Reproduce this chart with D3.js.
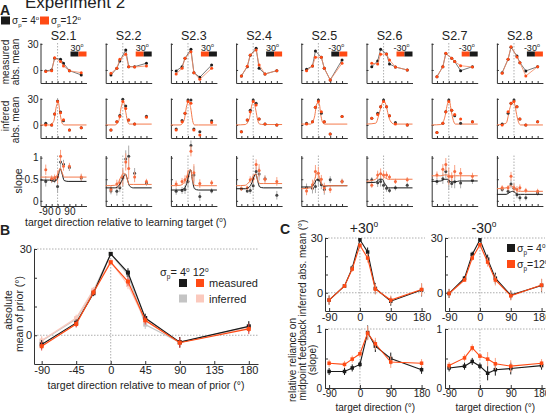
<!DOCTYPE html>
<html><head><meta charset="utf-8">
<script src="https://cdn.jsdelivr.net/npm/d3@7"></script>
<style>
body{margin:0;background:#fff}
svg text{font-family:"Liberation Sans",Arial,sans-serif;fill:#222}
</style></head><body><div id="fig"></div>
<script>
// ---------- data : panel A (single subjects)
const subjects = ["S2.1","S2.2","S2.3","S2.4","S2.5","S2.6","S2.7","S2.8"];
const learnTarget = ["30","30","30","30","-30","-30","-30","-30"];
const barOrder = [["k","o"],["o","k"],["o","k"],["k","o"],["k","o"],["o","k"],["o","k"],["k","o"]];

const dirsMeas = [-90,-45,-22.5,22.5,45,90,180];
const dirsAll = [-90,-45,-22.5,0,22.5,45,90,180];
const curveDirs = [-130,-60,-30,-10,5,20,35,50,80,220];

const measK = [
  [-1.1, 0, 13.4, 12.3, 7.7, -0.8, -5.7],
  [-5.7, 1.9, 10.3, 23, 3.8, 3.8, 7.7],
  [-1.1, 3.8, 13.4, 23.8, -3.1, -8.4, 5.7],
  [-6.9, 3.8, 17, 24.9, 1.9, -4.6, -0.8],
  [0.8, 4.6, 21.8, 14.6, 1.9, -11.5, 11.5],
  [3.8, 10.3, 23.8, 18.4, 6.9, 3.4, 0],
  [-7.7, 3.8, 19, 13.4, 9.6, -0.8, 3.8],
  [-3.1, 12.3, 26, 16.1, 8.4, -1.1, 3.8]
];
const measO = [
  [-1.9, -1, 14, 9.6, 4.6, -1, -3.1],
  [-3.8, 1.9, 12.3, 18, 3.8, 3.4, 4.6],
  [-4.6, 2, 13.4, 21, -3.1, -10.7, 1.9],
  [-6.9, 4.2, 17.2, 23, 5.7, -4.6, -0.8],
  [-1, 4.6, 14.6, 14.6, 1.9, -11.5, 7.7],
  [7.7, 6.9, 18, 18.4, 11.5, 3.4, 0],
  [-7.7, 3.8, 19.2, 13.4, 9.6, 4.9, 3.4],
  [-3.8, 12.3, 26.8, 15, 8.4, -6.9, 3.8]
];
const infK = [
  [1.9, 0, 12.6, 27.6, 15, 4.9, -5.7, -3.1],
  [-5.7, 3.8, 11, 29.5, 21.8, 5.7, 1.1, 10],
  [-4.6, 5, 13.4, 28.7, 28.7, -4.6, -7.7, 4.9],
  [-7.7, 5.7, 17, 28.7, 24.9, 6.9, 1.1, 0],
  [2, 3.8, 20.3, 28.7, 13.4, 3.8, -10.3, 9.6],
  [7.7, 13.4, 21, 28.7, 21, 10.7, 2.7, 0],
  [-8.8, 1.9, 15.3, 28.7, 17, 10.7, 1.9, 3.8],
  [1, 13.4, 24.9, 28.7, 21, 6.9, 0, 3.8]
];
const infO = [
  [0, 0, 12.6, 27, 14, 6, -5.7, -3.1],
  [-5.7, 3.8, 9.6, 27, 19, 5.7, 1.1, 8.8],
  [-5.7, 3.8, 13.4, 27, 24.9, -5.7, -11.5, 2.7],
  [-7.7, 5.7, 15.3, 27, 23, 6.9, 1.1, 0],
  [1.1, 3.8, 20.3, 27, 15.3, 3.8, -10.3, 9.6],
  [7.7, 12, 21, 27, 21, 10.7, 1.1, 0],
  [-8.8, 1.9, 15.3, 27, 17, 12, 6.9, 3.8],
  [0, 15.3, 24.9, 27, 21, 6.9, 0, 3.8]
];
const infCurve = [
  [0, 0, 4, 21, 26, 12, 2, 0, 0, 0],
  [0, 0, 5, 22, 27, 17, 5, 1, 1, 1],
  [0, 0, 5, 22, 27, 20, 5, 0, 0, 0],
  [0, 0.5, 7, 23, 27, 17, 5, 1, 0.5, 0.5],
  [1, 1, 9, 25, 25, 10, 2, 1, 1, 1],
  [1, 2, 15, 25, 27, 22, 12, 5, 1, 1],
  [0, 0.5, 9, 24, 27, 15, 5, 1, 1, 1],
  [0, 2, 20, 27, 24, 12, 3, 0, 0, 0]
];
const slopeK = [
  [0.45, 0.49, 0.49, 0.33, 0.90, 0.85, 0.77, 0.53],
  [0.23, 0.22, 0.30, 0.53, 0.97, 1.03, 0.64, 0.41],
  [0.22, 0.24, 0.26, 0.45, 1.28, 0.60, 0.10, 0.23],
  [0.28, 0.23, 0.24, 0.35, 0.68, 0.62, 0.51, 0.13],
  [0.30, 0.29, 0.33, 0.49, 0.37, 0.26, 0.49, 0.45],
  [0.49, 0.42, 0.45, 0.36, 0.29, 0.24, 0.30, 0.36],
  [0.45, 0.51, 0.68, 0.45, 0.40, 0.44, 0.41, 0.47],
  [0.26, 0.22, 0.39, 0.29, 0.14, 0.07, 0.07, 0.18]
];
const slopeO = [
  [0.72, 0.51, 0.53, 0.55, 1.03, 0.80, 0.80, 0.55],
  [0.27, 0.39, 0.41, 0.55, 0.90, 0.75, 0.55, 0.45],
  [0.39, 0.45, 0.49, 0.57, 1.15, 0.65, 0.40, 0.42],
  [0.28, 0.30, 0.49, 0.51, 0.84, 0.70, 0.50, 0.45],
  [0.23, 0.37, 0.68, 0.64, 0.50, 0.30, 0.26, 0.45],
  [0.36, 0.60, 0.63, 0.60, 0.60, 0.55, 0.45, 0.49],
  [0.60, 0.73, 0.84, 0.57, 0.56, 0.68, 0.64, 0.57],
  [0.30, 0.30, 0.57, 0.30, 0.26, 0.30, 0.24, 0.22]
];
const slopeErr = [
  [0.12, 0.08, 0.08, 0.15, 0.15, 0.10, 0.08, 0.08],
  [0.08, 0.10, 0.10, 0.20, 0.20, 0.25, 0.12, 0.06],
  [0.08, 0.08, 0.10, 0.15, 0.12, 0.20, 0.10, 0.06],
  [0.05, 0.05, 0.08, 0.10, 0.12, 0.15, 0.08, 0.10],
  [0.10, 0.12, 0.15, 0.15, 0.10, 0.12, 0.08, 0.06],
  [0.06, 0.10, 0.12, 0.10, 0.08, 0.06, 0.06, 0.06],
  [0.08, 0.12, 0.15, 0.20, 0.10, 0.15, 0.12, 0.08],
  [0.06, 0.06, 0.10, 0.10, 0.08, 0.08, 0.06, 0.06]
];
const slopeCurveK = [
  [0.48,0.48,0.45,0.47,0.58,0.74,0.62,0.47,0.45,0.45],
  [0.30,0.30,0.35,0.45,0.55,0.62,0.50,0.35,0.30,0.30],
  [0.25,0.25,0.28,0.40,0.58,0.72,0.45,0.28,0.25,0.25],
  [0.28,0.28,0.32,0.42,0.55,0.62,0.45,0.32,0.30,0.30],
  [0.32,0.32,0.40,0.50,0.48,0.40,0.34,0.34,0.35,0.35],
  [0.42,0.43,0.50,0.50,0.42,0.35,0.30,0.30,0.30,0.30],
  [0.45,0.46,0.50,0.50,0.46,0.44,0.44,0.44,0.46,0.46],
  [0.15,0.15,0.20,0.22,0.20,0.16,0.15,0.15,0.15,0.15]
];
const slopeCurveO = [
  [0.55,0.55,0.55,0.57,0.65,0.76,0.65,0.55,0.55,0.55],
  [0.35,0.36,0.45,0.58,0.64,0.62,0.48,0.38,0.38,0.38],
  [0.35,0.36,0.42,0.55,0.70,0.72,0.48,0.36,0.35,0.35],
  [0.35,0.36,0.44,0.52,0.60,0.62,0.48,0.40,0.40,0.40],
  [0.28,0.30,0.48,0.65,0.58,0.42,0.35,0.35,0.35,0.35],
  [0.45,0.50,0.62,0.60,0.55,0.52,0.50,0.50,0.50,0.50],
  [0.58,0.58,0.60,0.60,0.58,0.58,0.58,0.58,0.58,0.58],
  [0.28,0.30,0.35,0.33,0.28,0.24,0.22,0.22,0.22,0.22]
];

// ---------- data : panel B (group)
const bMeasK = [-3.2, 4.3, 14.6, 28.3, 21.8, 6, -2.4, 3.1];
const bMeasO = [-3.8, 3.9, 14.9, 25.4, 18.7, 5.2, -2.6, 2.2];
const bInfK = [-2, 5.6, 15.5, 28.3, 21, 3.7, -2.5, 3];
const bInfO = [-1.8, 6, 15.8, 25.6, 17.5, 5, -2.5, 2.5];
const bErr = [1.5, 1.2, 1, 0.6, 1.5, 1.5, 1.8, 1.8];

// ---------- data : panel C (+30 / -30 groups)
const cTopPosK = [-4, 3.7, 13.5, 29, 22.3, 2.4, -4.6, 1.5];
const cTopPosO = [-4, 3.7, 13, 26, 19, 2, -4, 1.8];
const cTopNegK = [-0.4, 8, 21, 29, 18.4, 8, -1.3, 4];
const cTopNegO = [-0.4, 7, 19, 26.3, 16.8, 7, -1.7, 4.2];
const cBotPosK = [0.28, 0.28, 0.34, 0.40, 0.94, 0.71, 0.50, 0.31];
const cBotPosO = [0.42, 0.40, 0.49, 0.58, 0.93, 0.75, 0.44, 0.42];
const cBotNegK = [0.34, 0.37, 0.45, 0.37, 0.25, 0.31, 0.33, 0.38];
const cBotNegO = [0.38, 0.51, 0.68, 0.54, 0.49, 0.41, 0.37, 0.42];
const cTopErr = [2.5, 1, 1.5, 0.8, 2.5, 3, 2.5, 3.5];
const cBotErr = [0.06, 0.06, 0.06, 0.05, 0.12, 0.1, 0.1, 0.07];

// ---------- setup
const K = "#1a1a1a", O = "#ff4a14", KL = "#c4c4c4", OL = "#fbc9bd";
const OE = "#f9a183";
const minus = d => "" + d;   // plain hyphen like the figure

const svg = d3.select("#fig").append("svg")
    .attr("width", 546).attr("height", 413);

function axes(g, x, y, xt, yt, xf, yf, size, fs, pad) {
    g.append("g").attr("transform", `translate(${x.range()[0]},0)`)
        .call(d3.axisLeft(y).tickValues(yt).tickSize(size).tickSizeOuter(0).tickPadding(pad || 2).tickFormat(yf))
        .attr("font-size", fs).attr("color", "#333");
    g.append("g").attr("transform", `translate(0,${y.range()[0]})`)
        .call(d3.axisBottom(x).tickValues(xt).tickSize(size).tickSizeOuter(0).tickPadding(2).tickFormat(xf))
        .attr("font-size", fs).attr("color", "#333");
}

function dotted(g, x1, y1, x2, y2) {
    g.append("line").attr("x1", x1).attr("y1", y1).attr("x2", x2).attr("y2", y2)
        .attr("stroke", "#999").attr("stroke-width", 0.8).attr("stroke-dasharray", "1.5,1.5");
}

function series(g, x, y, xs, ys, col, opt) {
    const pts = xs.map((d, i) => ({ x: d, y: ys[i], e: opt.err ? opt.err[i] : 0 }));
    if (opt.line) {
        g.append("path").datum(pts)
            .attr("d", d3.line().x(d => x(d.x)).y(d => y(d.y)))
            .attr("fill", "none").attr("stroke", opt.lineCol || col).attr("stroke-width", opt.lw || 1);
    }
    if (opt.err) {
        g.selectAll(null).data(pts).enter().append("line")
            .attr("x1", d => x(d.x)).attr("x2", d => x(d.x))
            .attr("y1", d => y(d.y - d.e)).attr("y2", d => y(d.y + d.e))
            .attr("stroke", opt.errCol || col).attr("stroke-width", 1);
    }
    const s = opt.size || 3;
    g.selectAll(null).data(pts).enter().append("rect")
        .attr("x", d => x(d.x) - s / 2).attr("y", d => y(d.y) - s / 2)
        .attr("width", s).attr("height", s).attr("rx", opt.round ? s / 2 : 0)
        .attr("fill", col);
}

function curve(g, x, y, xs, ys, col, lw) {
    const pts = xs.map((d, i) => ({ x: d, y: ys[i] }));
    g.append("path").datum(pts)
        .attr("d", d3.line().curve(d3.curveMonotoneX).x(d => x(d.x)).y(d => y(d.y)))
        .attr("fill", "none").attr("stroke", col).attr("stroke-width", lw);
}

function sigma(g, x, y, val, fs) {
    const t = g.append("text").attr("x", x).attr("y", y).attr("font-size", fs);
    t.append("tspan").text("\u03c3");
    t.append("tspan").attr("font-size", fs * 0.6).attr("dy", fs * 0.25).text("p");
    t.append("tspan").attr("dy", -fs * 0.25).text("=" + val);
    t.append("tspan").attr("font-size", fs * 0.6).attr("dy", -fs * 0.4).text("o");
    return t;
}

function deg(g, x, y, label, fs, anchor) {
    const t = g.append("text").attr("x", x).attr("y", y).attr("font-size", fs)
        .attr("text-anchor", anchor || "start");
    t.append("tspan").text(label);
    t.append("tspan").attr("font-size", fs * 0.6).attr("dy", -fs * 0.4).text("o");
    return t;
}

function vlabel(g, x, y, txt, fs) {
    g.append("text").attr("transform", `translate(${x},${y}) rotate(-90)`)
        .attr("text-anchor", "middle").attr("font-size", fs).text(txt);
}

// ---------- panel A
const gA = svg.append("g");
gA.append("text").attr("x", 0).attr("y", 15).attr("font-size", 14).attr("font-weight", "bold").text("A");
gA.append("text").attr("x", 25).attr("y", 8).attr("font-size", 17).text("Experiment 2");
gA.append("rect").attr("x", 1).attr("y", 16.5).attr("width", 9).attr("height", 8).attr("fill", K);
sigma(gA, 12, 24, " 4", 10);
gA.append("rect").attr("x", 40).attr("y", 16.5).attr("width", 9).attr("height", 8).attr("fill", O);
sigma(gA, 51, 24, "12", 10);

const aX0 = 40.5, aStep = 65.2, aW = 46;
const aRows = [
    { top: 43, bot: 83, dom: [-15, 31], ticks: [0, 30] },
    { top: 98, bot: 138, dom: [-15, 31], ticks: [0, 30] },
    { top: 155.5, bot: 206, dom: [-0.12, 1.05], ticks: [0, 0.5, 1] }
];

subjects.forEach((s, i) => {
    const x0 = aX0 + i * aStep;
    const x = d3.scaleLinear().domain([-130, 220]).range([x0, x0 + aW]);
    aRows.forEach((r, ri) => {
        const y = d3.scaleLinear().domain(r.dom).range([r.bot, r.top]);
        const g = gA.append("g");
        dotted(g, x(0), r.top, x(0), r.bot);
        axes(g, x, y, [-90, -45, 0, 45, 90, 135, 180], r.ticks,
            d => (i === 0 && ri === 2 && [-90, 0, 90].includes(d)) ? minus(d) : "",
            d => i === 0 ? d : "", -2, 10);
        if (ri === 0) {
            series(g, x, y, dirsMeas, measK[i], K, { line: true, lw: 0.8, lineCol: "#555", size: 3, round: true });
            series(g, x, y, dirsMeas, measO[i], O, { line: true, lw: 0.8, lineCol: "#f4875f", size: 3, round: true });
        } else if (ri === 1) {
            curve(g, x, y, curveDirs, infCurve[i], "#f47a4c", 1);
            series(g, x, y, dirsAll, infK[i], "#333", { size: 3, round: true });
            series(g, x, y, dirsAll, infO[i], O, { size: 3, round: true });
        } else {
            series(g, x, y, dirsAll, slopeK[i], "#444", { err: slopeErr[i], errCol: "#aaa", size: 3, round: true });
            series(g, x, y, dirsAll, slopeO[i], "#f76a3e", { err: slopeErr[i], errCol: OE, size: 3, round: true });
            curve(g, x, y, curveDirs, slopeCurveK[i], K, 1);
            curve(g, x, y, curveDirs, slopeCurveO[i], "#f47a4c", 1);
        }
    });
    gA.append("text").attr("x", x0 + aW / 2).attr("y", 39.5).attr("text-anchor", "middle")
        .attr("font-size", 12.5).text(s);
    deg(gA, x0 + aW - 3, 50.5, minus(+learnTarget[i]), 9, "end");
    barOrder[i].forEach((c, j) => {
        gA.append("rect").attr("x", x0 + 30 + j * 8).attr("y", 51.5).attr("width", 8).attr("height", 5)
            .attr("fill", c === "k" ? K : O);
    });
});
vlabel(gA, 8.5, 62, "measured", 10);
vlabel(gA, 18.5, 62, "abs. mean", 10);
vlabel(gA, 8.5, 116, "infered", 10);
vlabel(gA, 18.5, 120, "abs. mean", 10);
vlabel(gA, 22, 181, "slope", 10.5);
deg(gA, 25, 226, "target direction relative to learning target (", 10.5).append("tspan").attr("dy", 4.2).text(")");

// ---------- panel B
const gB = svg.append("g");
gB.append("text").attr("x", 0).attr("y", 235).attr("font-size", 14).attr("font-weight", "bold").text("B");
const xB = d3.scaleLinear().domain([-100, 192]).range([34, 258]);
const yB = d3.scaleLinear().domain([-10, 30]).range([364, 249]);
dotted(gB, 34, yB(0), 258, yB(0));
dotted(gB, 34, yB(30), 258, yB(30));
dotted(gB, xB(0), 249, xB(0), 364);
axes(gB, xB, yB, [-90, -45, 0, 45, 90, 135, 180], [0, 10, 20, 30], minus,
    d => (d === 0 || d === 30) ? d : "", -3, 11);
series(gB, xB, yB, dirsAll, bInfK, KL, { line: true, lw: 1.2, err: bErr, size: 4 });
series(gB, xB, yB, dirsAll, bInfO, OL, { line: true, lw: 1.2, err: bErr, size: 4 });
series(gB, xB, yB, dirsAll, bMeasK, K, { line: true, lw: 1.2, err: bErr, size: 4 });
series(gB, xB, yB, dirsAll, bMeasO, O, { line: true, lw: 1.2, err: bErr, errCol: "#d44", size: 4 });
vlabel(gB, 12, 310, "absolute", 10.5);
vlabel(gB, 23, 314, "mean of prior (\u00b0)", 10.5);
gB.append("text").attr("x", 146).attr("y", 389).attr("text-anchor", "middle").attr("font-size", 10.5)
    .text("target direction relative to mean of prior (\u00b0)");
// legend
const lg = gB.append("text").attr("x", 160).attr("y", 276).attr("font-size", 11);
lg.append("tspan").text("\u03c3");
lg.append("tspan").attr("font-size", 6.5).attr("dy", 3).text("p");
lg.append("tspan").attr("dy", -3).text("= 4");
lg.append("tspan").attr("font-size", 6.5).attr("dy", -4.5).text("o");
lg.append("tspan").attr("dy", 4.5).text("  12");
lg.append("tspan").attr("font-size", 6.5).attr("dy", -4.5).text("o");
[[K, O, "measured", 279], [KL, OL, "inferred", 294.5]].forEach(r => {
    gB.append("rect").attr("x", 179).attr("y", r[3]).attr("width", 8).attr("height", 8).attr("fill", r[0]);
    gB.append("rect").attr("x", 196).attr("y", r[3]).attr("width", 8).attr("height", 8).attr("fill", r[1]);
    gB.append("text").attr("x", 209).attr("y", r[3] + 8).attr("font-size", 11).text(r[2]);
});

// ---------- panel C
const gC = svg.append("g");
gC.append("text").attr("x", 280).attr("y", 234).attr("font-size", 14).attr("font-weight", "bold").text("C");
const cPanels = [
    { x0: 325, title: "+30", tK: cTopPosK, tO: cTopPosO, bK: cBotPosK, bO: cBotPosO },
    { x0: 445, title: "-30", tK: cTopNegK, tO: cTopNegO, bK: cBotNegK, bO: cBotNegO }
];
cPanels.forEach(p => {
    const x = d3.scaleLinear().domain([-102, 190]).range([p.x0, p.x0 + 100]);
    const yT = d3.scaleLinear().domain([-10, 30]).range([311, 238]);
    const yBt = d3.scaleLinear().domain([0, 1]).range([388, 329]);
    dotted(gC, p.x0, yT(0), p.x0 + 100, yT(0));
    dotted(gC, p.x0, yT(30), p.x0 + 100, yT(30));
    dotted(gC, x(0), 238, x(0), 311);
    dotted(gC, p.x0, yBt(1), p.x0 + 100, yBt(1));
    dotted(gC, x(0), 329, x(0), 388);
    axes(gC, x, yT, [-90, 0, 90, 180], [0, 10, 20, 30], minus, d => (d === 0 || d === 30) ? d : "", -3, 11);
    axes(gC, x, yBt, [-90, 0, 90, 180], [0, 0.5, 1], minus, d => (d === 0 || d === 1) ? d : "", -3, 10, 3);
    series(gC, x, yT, dirsAll, p.tK, K, { line: true, lw: 1.1, err: cTopErr, size: 3.5 });
    series(gC, x, yT, dirsAll, p.tO, O, { line: true, lw: 1.1, err: cTopErr, errCol: OE, size: 3.5 });
    series(gC, x, yBt, dirsAll, p.bK, K, { line: true, lw: 1.1, err: cBotErr, size: 3.5 });
    series(gC, x, yBt, dirsAll, p.bO, O, { line: true, lw: 1.1, err: cBotErr, errCol: OE, size: 3.5 });
    deg(gC, x(0) + 4, 233, p.title, 14, "middle");
    gC.append("text").attr("x", x(45)).attr("y", 410.5).attr("text-anchor", "middle").attr("font-size", 10)
        .text("target direction (\u00b0)");
});
vlabel(gC, 306, 268, "inferred abs. mean (\u00b0)", 10);
vlabel(gC, 296, 360, "relative reliance on", 10);
vlabel(gC, 306, 360, "midpoint feedback", 10);
vlabel(gC, 316, 360, "(slope)", 10);
gC.append("rect").attr("x", 507).attr("y", 244).attr("width", 8).attr("height", 8).attr("fill", K);
sigma(gC, 517, 252, " 4", 10.5);
gC.append("rect").attr("x", 507).attr("y", 260).attr("width", 8).attr("height", 8).attr("fill", O);
sigma(gC, 517, 268, "12", 10.5);
</script></body></html>
